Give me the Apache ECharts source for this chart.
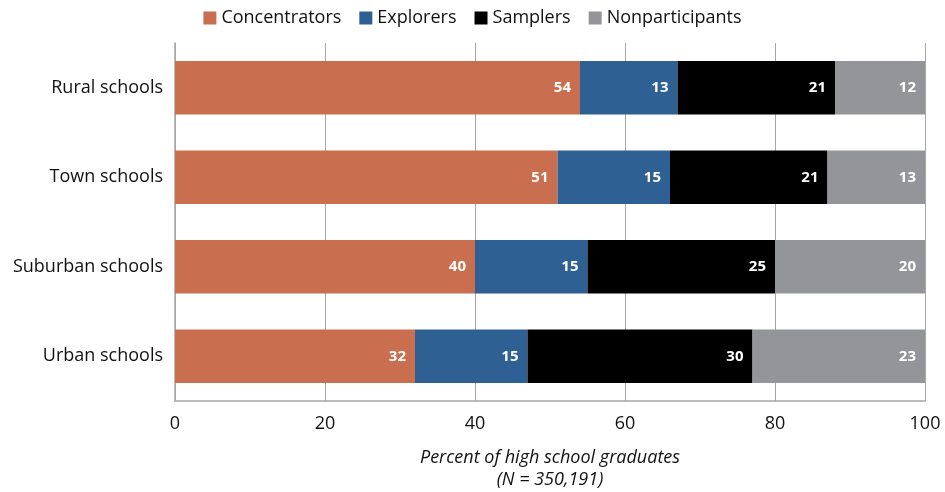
<!DOCTYPE html>
<html><head><meta charset="utf-8">
<script src="https://cdn.jsdelivr.net/npm/echarts@6/dist/echarts.min.js"></script>
<style>html,body{margin:0;padding:0;background:#fff}#c{width:945px;height:492px}</style>
</head><body><div id="c"></div>
<script>
var categories = ["Rural schools", "Town schools", "Suburban schools", "Urban schools"];
var seriesNames = ["Concentrators", "Explorers", "Samplers", "Nonparticipants"];
var concentrators = [54, 51, 40, 32];
var explorers = [13, 15, 15, 15];
var samplers = [21, 21, 25, 30];
var nonparticipants = [12, 13, 20, 23];
var colors = ["#C96E4E", "#2E6094", "#000000", "#939598"];
var xTicks = [0, 20, 40, 60, 80, 100];

var font = "'Open Sans', 'Noto Sans', sans-serif";
var values = [concentrators, explorers, samplers, nonparticipants];
var chart = echarts.init(document.getElementById('c'));
chart.setOption({
  animation: false,
  textStyle: {fontFamily: font},
  legend: {
    top: 4, left: 'center', itemWidth: 13, itemHeight: 13, itemGap: 18, icon: 'rect',
    textStyle: {fontSize: 18, color: '#111', fontFamily: font},
    data: seriesNames
  },
  grid: {left: 175, right: 20, top: 43, bottom: 91, outerBoundsMode: 'none', containLabel: false},
  xAxis: {
    type: 'value', min: 0, max: 100, interval: 20,
    axisLine: {show: true, lineStyle: {color: '#A6A6A6', width: 1.5}},
    axisTick: {show: false},
    splitLine: {show: true, lineStyle: {color: '#A6A6A6', width: 1}},
    axisLabel: {fontSize: 18, color: '#111', margin: 14, fontFamily: font},
    name: 'Percent of high school graduates\n(N = 350,191)',
    nameLocation: 'middle', nameGap: 46,
    nameTextStyle: {fontSize: 18, fontStyle: 'italic', color: '#111', lineHeight: 22, fontFamily: font}
  },
  yAxis: {
    type: 'category', data: categories, inverse: true,
    axisLine: {show: true, lineStyle: {color: '#A6A6A6', width: 1.5}},
    axisTick: {show: false},
    axisLabel: {fontSize: 18, color: '#111', margin: 12, fontFamily: font}
  },
  series: seriesNames.map(function (n, i) {
    return {
      name: n, type: 'bar', stack: 'all', data: values[i], barWidth: '60%',
      itemStyle: {color: colors[i]},
      label: {show: true, position: 'insideRight', distance: 9, color: '#fff', fontWeight: 'bold', fontSize: 15, fontFamily: font}
    };
  })
});
</script></body></html>
